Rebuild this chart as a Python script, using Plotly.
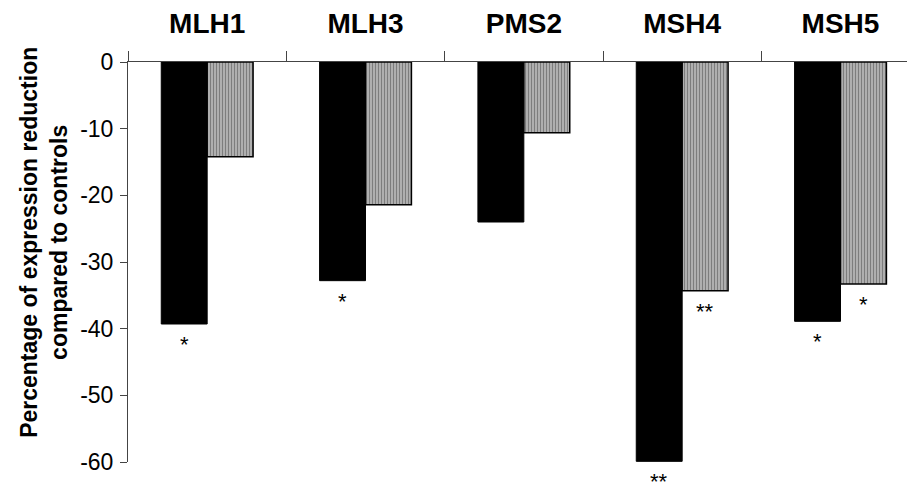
import plotly.graph_objects as go

genes = ["MLH1", "MLH3", "PMS2", "MSH4", "MSH5"]
group_a = [-39.3, -32.8, -24.0, -59.9, -38.9]
group_b = [-14.2, -21.4, -10.6, -34.3, -33.3]
sig_a = ["*", "*", "", "**", "*"]
sig_b = ["", "", "", "**", "*"]
y_ticks = [0, -10, -20, -30, -40, -50, -60]
y_title = "<b>Percentage of expression reduction<br>compared to controls</b>"

FONT = "Liberation Sans, Arial"

fig = go.Figure()
fig.add_trace(go.Bar(
    x=genes, y=group_a, marker=dict(color="black", line=dict(color="black", width=1)),
    showlegend=False))
fig.add_trace(go.Bar(
    x=genes, y=group_b,
    marker=dict(color="white", line=dict(color="black", width=1.5),
                pattern=dict(shape="|", fgcolor="#2a2a2a", bgcolor="#d0d0d0",
                             size=3, solidity=0.6)),
    showlegend=False))

ann = []
for i, g in enumerate(genes):
    for off, vals, sig in ((-0.146, group_a, sig_a), (0.146, group_b, sig_b)):
        if sig[i]:
            ann.append(dict(x=i + off, y=vals[i], xref="x", yref="y", text=sig[i],
                            showarrow=False, yanchor="top", yshift=-6,
                            height=16, valign="top",
                            font=dict(family=FONT, size=22, color="black")))
ann.append(dict(x=-0.108, y=0.55, xref="paper", yref="paper", text=y_title,
                showarrow=False, textangle=-90, xanchor="center", yanchor="middle",
                font=dict(family=FONT, size=23, color="black")))
fig.update_layout(annotations=ann)

fig.update_layout(
    width=907, height=489,
    margin=dict(l=128, r=0, t=62, b=27),
    paper_bgcolor="white", plot_bgcolor="white",
    barmode="group", bargap=0.42, bargroupgap=0,
    font=dict(family=FONT, color="black"),
    xaxis=dict(side="top", range=[-0.5, 4.42], showline=True, linecolor="#444", linewidth=1,
               ticks="outside", ticklen=10, tickcolor="#444", tickson="boundaries",
               tickfont=dict(size=28, family=FONT, color="black", weight="bold"),
               ticklabelstandoff=17, showgrid=False, zeroline=False),
    yaxis=dict(range=[-60, 0], tickvals=y_ticks, ticktext=[str(v) for v in y_ticks],
               showline=True, linecolor="#444", linewidth=1, ticks="outside", ticklen=7,
               tickcolor="#444", tickfont=dict(size=23, color="black"),
               ticklabelstandoff=2,
               showgrid=False, zeroline=False),
)

fig.write_html("out.html")
